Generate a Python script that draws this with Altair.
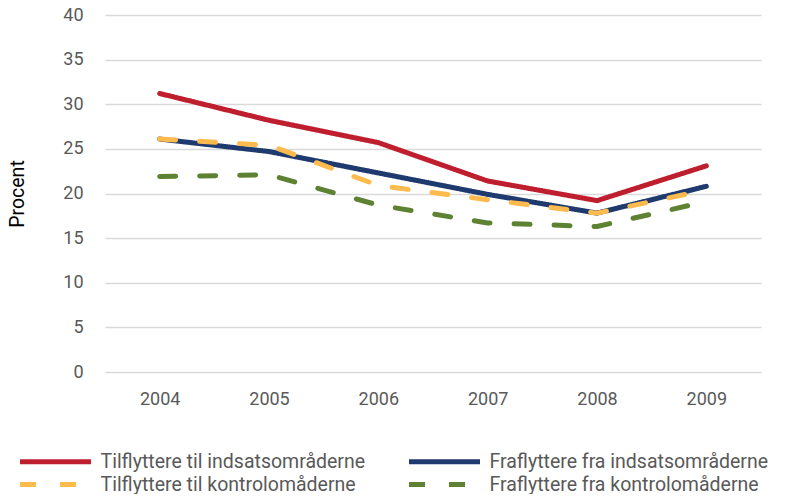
import altair as alt
import pandas as pd

years = ["2004", "2005", "2006", "2007", "2008", "2009"]
series_names = [
    "Tilflyttere til indsatsområderne",
    "Fraflyttere fra indsatsområderne",
    "Tilflyttere til kontrolomåderne",
    "Fraflyttere fra kontrolomåderne",
]
til_indsats = [31.2, 28.2, 25.7, 21.4, 19.2, 23.1]
fra_indsats = [26.1, 24.7, 22.3, 19.9, 17.8, 20.8]
til_kontrol = [26.1, 25.4, 20.9, 19.3, 17.8, 20.4]
fra_kontrol = [21.9, 22.1, 18.7, 16.7, 16.3, 19.1]

colors = ["#BE1E2D", "#1F3A6E", "#FDBA4D", "#5E8233"]
dashes = [[1, 0], [1, 0], [16, 24], [16, 24]]

# legend is laid out column by column
legend_order = [series_names[0], series_names[2], series_names[1], series_names[3]]

rows = []
for name, vals in zip(series_names, [til_indsats, fra_indsats, til_kontrol, fra_kontrol]):
    for y, v in zip(years, vals):
        rows.append({"year": y, "value": v, "series": name})
df = pd.DataFrame(rows)

FONT = "Roboto"
GRAY = "#595959"

legend = alt.Legend(
    title=None,
    orient="none",
    legendX=-61,
    legendY=435,
    columns=2,
    values=legend_order,
    symbolType="M-4,0H4",
    symbolSize=315,
    symbolStrokeWidth=5,
    labelFontSize=19.5,
    labelFont=FONT,
    labelColor=GRAY,
    labelOffset=33.5,
    columnPadding=33,
    rowPadding=1,
    labelLimit=400,
)

chart = (
    alt.Chart(df)
    .mark_line(strokeWidth=5, strokeCap="round", strokeJoin="round")
    .encode(
        x=alt.X(
            "year:O",
            sort=years,
            scale=alt.Scale(type="point", padding=0.5),
            axis=alt.Axis(
                title=None, grid=False, domain=False, ticks=False, labelAngle=0,
                labelFont=FONT, labelFontSize=18, labelColor=GRAY, labelPadding=18,
            ),
        ),
        y=alt.Y(
            "value:Q",
            scale=alt.Scale(domain=[0, 40]),
            axis=alt.Axis(
                title="Procent", values=list(range(0, 41, 5)), domain=False, ticks=False,
                gridColor="#D9D9D9", gridWidth=1.5,
                labelFont=FONT, labelFontSize=18, labelColor=GRAY, labelPadding=22,
                titleFont=FONT, titleFontSize=19.5, titleFontWeight="normal", titleColor="#000000",
                titlePadding=35,
            ),
        ),
        color=alt.Color(
            "series:N",
            sort=series_names,
            scale=alt.Scale(domain=series_names, range=colors),
            legend=legend,
        ),
        strokeDash=alt.StrokeDash(
            "series:N",
            sort=series_names,
            scale=alt.Scale(domain=series_names, range=dashes),
            legend=legend,
        ),
    )
    .properties(
        width=656,
        height=357,
        autosize=alt.AutoSizeParams(type="none"),
        padding={"left": 97, "top": 7, "right": 14, "bottom": 122},
    )
    .configure_view(stroke=None)
)

chart.save("out.html", embed_options={"renderer": "svg", "actions": False})
